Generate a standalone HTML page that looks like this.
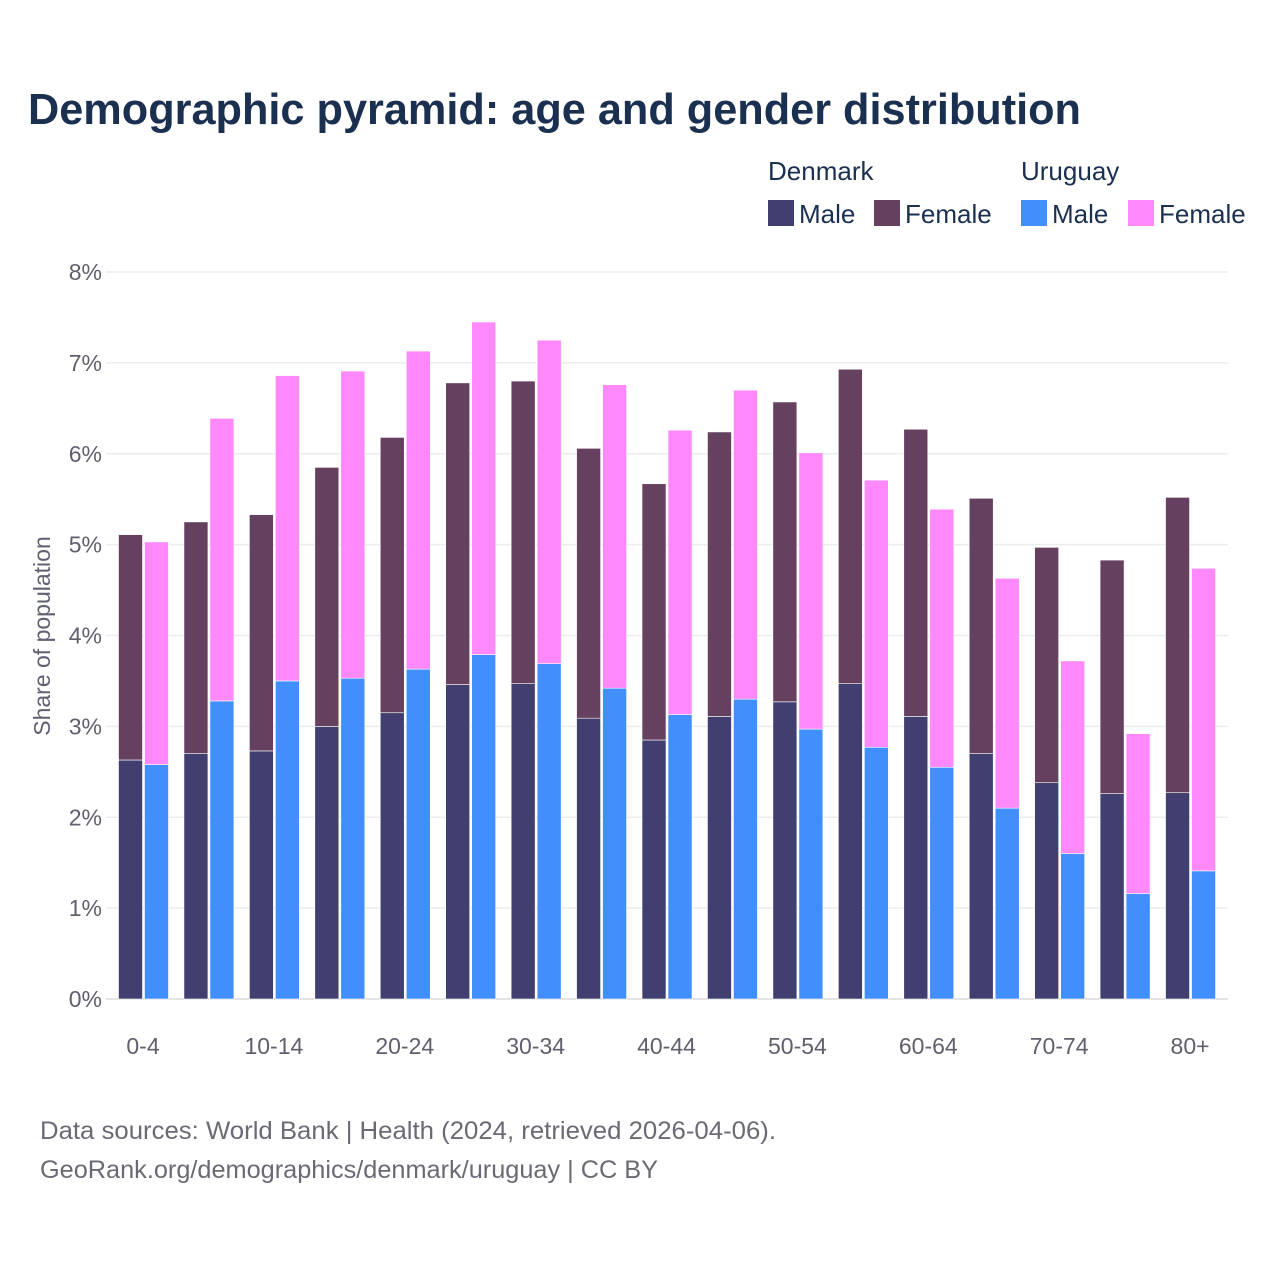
<!DOCTYPE html>
<html><head><meta charset="utf-8"><style>
body{margin:0;background:#fff;font-family:"Liberation Sans",sans-serif;}
#wrap{position:relative;width:1280px;height:1280px;overflow:hidden;}
</style></head><body>
<div id="wrap">
<svg id="svg" width="1280" height="1280" xmlns="http://www.w3.org/2000/svg">
<text x="28" y="124" font-size="44" font-weight="bold" fill="#1b3050" textLength="1053" lengthAdjust="spacingAndGlyphs">Demographic pyramid: age and gender distribution</text>
<g font-size="26" fill="#1b3050">
<text x="768" y="180">Denmark</text>
<text x="1021" y="180">Uruguay</text>
<rect x="768" y="200" width="26" height="26" fill="#413f6f"/>
<text x="799" y="223">Male</text>
<rect x="874" y="200" width="26" height="26" fill="#66405f"/>
<text x="905" y="223">Female</text>
<rect x="1021" y="200" width="26" height="26" fill="#418efd"/>
<text x="1052" y="223">Male</text>
<rect x="1128" y="200" width="26" height="26" fill="#ff88fb"/>
<text x="1159" y="223">Female</text>
</g>
<g id="grid"></g>
<g id="bars"></g>
<g id="axes"></g>
<text transform="translate(50,636) rotate(-90)" text-anchor="middle" font-size="23" fill="#606070">Share of population</text>
<text x="40" y="1139" font-size="25" fill="#6a6a74" textLength="736" lengthAdjust="spacingAndGlyphs">Data sources: World Bank | Health (2024, retrieved 2026-04-06).</text>
<text x="40" y="1178" font-size="25" fill="#6a6a74" textLength="618" lengthAdjust="spacingAndGlyphs">GeoRank.org/demographics/denmark/uruguay | CC BY</text>
</svg>
</div>
<script>
const categories=["0-4","5-9","10-14","15-19","20-24","25-29","30-34","35-39","40-44","45-49","50-54","55-59","60-64","65-69","70-74","75-79","80+"];
const dkMale=[2.63,2.70,2.73,3.00,3.15,3.46,3.47,3.09,2.85,3.11,3.27,3.47,3.11,2.70,2.38,2.26,2.27];
const dkFemale=[2.48,2.55,2.60,2.85,3.03,3.32,3.33,2.97,2.82,3.13,3.30,3.46,3.16,2.81,2.59,2.57,3.25];
const uyMale=[2.58,3.28,3.50,3.53,3.63,3.79,3.69,3.42,3.13,3.30,2.97,2.77,2.55,2.10,1.60,1.16,1.41];
const uyFemale=[2.45,3.11,3.36,3.38,3.50,3.66,3.56,3.34,3.13,3.40,3.04,2.94,2.84,2.53,2.12,1.76,3.33];
const yTicks=[0,1,2,3,4,5,6,7,8];
const yTickLabels=["0%","1%","2%","3%","4%","5%","6%","7%","8%"];

const NS="http://www.w3.org/2000/svg";
const y0=999,pxPer=90.875,x0=143,step=65.44;
function yScale(v){return y0-v*pxPer;}
function xScale(i){return x0+i*step;}
function mk(tag,attrs,parent){const e=document.createElementNS(NS,tag);for(const k in attrs)e.setAttribute(k,attrs[k]);parent.appendChild(e);return e;}
const grid=document.getElementById('grid'),bars=document.getElementById('bars'),axes=document.getElementById('axes');
yTicks.forEach((t,i)=>{
  const y=yScale(t);
  const l=mk('line',{x1:106,x2:1228,y1:y,y2:y,stroke:t===0?'#dcdcdc':'#ececec','stroke-width':1.5},grid);
  
  
  const tx=mk('text',{x:102,y:y+8,'text-anchor':'end','font-size':23,fill:'#60606c'},axes);
  tx.textContent=yTickLabels[i];
  
  
});
function bar(x,v0,v1,color,name){
  const r=mk('rect',{x:x,y:yScale(v1),width:24,height:yScale(v0)-yScale(v1),fill:color,stroke:'#fff','stroke-width':0.6},bars);
  
  
}
categories.forEach((c,i)=>{
  const cx=xScale(i);
  bar(cx-24.5,0,dkMale[i],'#413f6f','bar-dk-male-'+c);
  bar(cx-24.5,dkMale[i],dkMale[i]+dkFemale[i],'#66405f','bar-dk-female-'+c);
  bar(cx+1.5,0,uyMale[i],'#418efd','bar-uy-male-'+c);
  bar(cx+1.5,uyMale[i],uyMale[i]+uyFemale[i],'#ff88fb','bar-uy-female-'+c);
  if(i%2===0){
    const t=mk('text',{x:cx,y:1054,'text-anchor':'middle','font-size':23,fill:'#60606c'},axes);
    t.textContent=c;
    
    
  }
});
</script>
</body></html>
